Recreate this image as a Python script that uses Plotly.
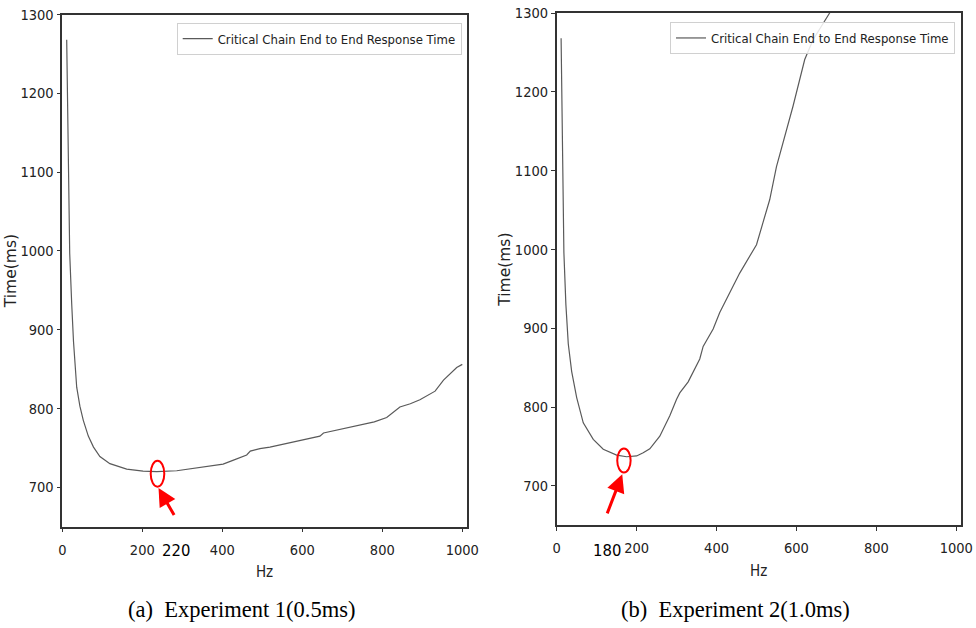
import plotly.graph_objects as go

# ---------------- data ----------------
hz_a = [11, 12.5, 15, 18.5, 23.5, 28, 36, 44, 52.5, 65, 78, 94, 119, 140, 161, 202, 236,
        286, 344, 402, 428, 461, 470, 494, 519, 580, 644, 653, 720, 780, 811, 844, 870,
        894, 932, 953, 986, 1000]
ms_a = [1268, 1207, 1102, 997, 933, 885, 827, 803, 785, 765, 751, 739, 730, 726, 723, 720.6, 720,
        721, 725, 729.5, 734.5, 741, 746, 749, 751, 758, 765, 769, 776, 783, 788.6, 802, 806,
        811, 822, 836, 852, 856]

hz_b = [11, 12.5, 15, 18, 23, 29, 37.5, 50, 66.5, 91.5, 116.5, 150, 175, 200, 216.5, 233,
        258, 283, 300, 308, 329, 358, 366.5, 391.5, 408, 458, 500, 533, 550, 591.5, 620.7,
        641.5, 683, 700]
ms_b = [1268, 1200, 1100, 996, 930, 880, 845, 812, 780, 759, 746.5, 739, 737, 738, 742, 747,
        763, 789, 810, 818, 832, 861, 877, 899, 920, 970, 1006, 1063, 1105, 1182, 1241,
        1266, 1300, 1314]

x_ticks = [0, 200, 400, 600, 800, 1000]
y_ticks = [700, 800, 900, 1000, 1100, 1200, 1300]
series_name = "Critical Chain End to End Response Time"
captions = ["(a)\u00a0 Experiment 1(0.5ms)", "(b)\u00a0 Experiment 2(1.0ms)"]
marked_labels = ["220", "180"]
marked_label_x = [284, 127]
circle_a = [221, 255, 700.8, 733.7]
circle_b = [151.5, 185, 717, 747.4]
arrow_a = [240.5, 699.1, 281.7, 662.8]
arrow_b = [164, 714.8, 125, 663.2]

W, H = 976, 628
SANS = "Liberation Sans Narrow, DejaVu Sans Condensed, Liberation Sans, Arial, sans-serif"
TICK_FONT = dict(family=SANS, size=14.5, color="#222")
LINE = "#333"

fig = go.Figure()
fig.add_trace(go.Scatter(x=hz_a, y=ms_a, mode="lines", name=series_name,
                         line=dict(color="#5a5a5a", width=1.2),
                         xaxis="x", yaxis="y", legend="legend"))
fig.add_trace(go.Scatter(x=hz_b, y=ms_b, mode="lines", name=series_name,
                         line=dict(color="#5a5a5a", width=1.2),
                         xaxis="x2", yaxis="y2", legend="legend2"))


def xax(domain, anchor):
    return dict(domain=domain, range=[0, 1011], tickvals=x_ticks, ticks="outside",
                ticklen=4, tickwidth=1.2, tickcolor=LINE, showline=True, linecolor=LINE,
                linewidth=1.5, mirror=True, showgrid=False, zeroline=False,
                tickfont=TICK_FONT, anchor=anchor, automargin=False, ticklabelstandoff=5,
                title=dict(text="Hz", font=dict(family=SANS, size=15, color="#222"), standoff=10))


def yax(domain, anchor):
    return dict(domain=domain, range=[650, 1300], tickvals=y_ticks, ticks="outside",
                ticklen=4, tickwidth=1.2, tickcolor=LINE, showline=True, linecolor=LINE,
                linewidth=1.5, mirror=True, showgrid=False, zeroline=False,
                tickfont=TICK_FONT, anchor=anchor, automargin=False,
                title=dict(text="Time(ms)", font=dict(family="DejaVu Sans", size=15.5, color="#222"),
                           standoff=0))


legend_style = dict(xanchor="right", yanchor="top", bordercolor="#d0d0d0", borderwidth=1,
                    bgcolor="rgba(255,255,255,0.85)", itemwidth=30,
                    font=dict(family=SANS, size=13, color="#222"))

annotations = []
for cap, cx in zip(captions, [241, 735]):
    annotations.append(dict(text=cap, xref="paper", yref="paper", x=cx / W, y=1 - 609 / H,
                            showarrow=False, xanchor="center", yanchor="middle",
                            font=dict(family="Liberation Serif, Times New Roman, serif",
                                      size=22.5, color="#000")))
for lab, lx, xr in zip(marked_labels, marked_label_x, ["x", "x2"]):
    annotations.append(dict(text=lab, xref=xr, yref="paper", x=lx, y=1 - 550 / H,
                            showarrow=False, xanchor="center", yanchor="middle",
                            font=dict(family=SANS, size=16.5, color="#000")))
for arr, xr, yr in [(arrow_a, "x", "y"), (arrow_b, "x2", "y2")]:
    annotations.append(dict(text="", x=arr[0], y=arr[1], ax=arr[2], ay=arr[3],
                            xref=xr, yref=yr, axref=xr, ayref=yr, showarrow=True,
                            arrowhead=2, arrowsize=1.2, arrowwidth=3, arrowcolor="#ff0000"))

shapes = []
for c, xr, yr in [(circle_a, "x", "y"), (circle_b, "x2", "y2")]:
    shapes.append(dict(type="circle", xref=xr, yref=yr, x0=c[0], x1=c[1], y0=c[2], y1=c[3],
                       line=dict(color="#ff0000", width=2)))

fig.update_layout(
    width=W, height=H, margin=dict(l=0, r=0, t=0, b=0, autoexpand=False),
    paper_bgcolor="white", plot_bgcolor="white",
    xaxis=xax([62.3 / W, 466.7 / W], "y"),
    yaxis=yax([1 - 526.7 / H, 1 - 14.5 / H], "x"),
    xaxis2=xax([556.7 / W, 960.7 / W], "y2"),
    yaxis2=yax([1 - 525.3 / H, 1 - 13 / H], "x2"),
    legend=dict(x=461.7 / W, y=1 - 22.7 / H, **legend_style),
    legend2=dict(x=955 / W, y=1 - 22 / H, **legend_style),
    annotations=annotations, shapes=shapes, showlegend=True,
)

fig.write_html("out.html", config={"displayModeBar": False},
               post_script="document.body.style.margin='0';document.body.style.overflow='hidden';")
